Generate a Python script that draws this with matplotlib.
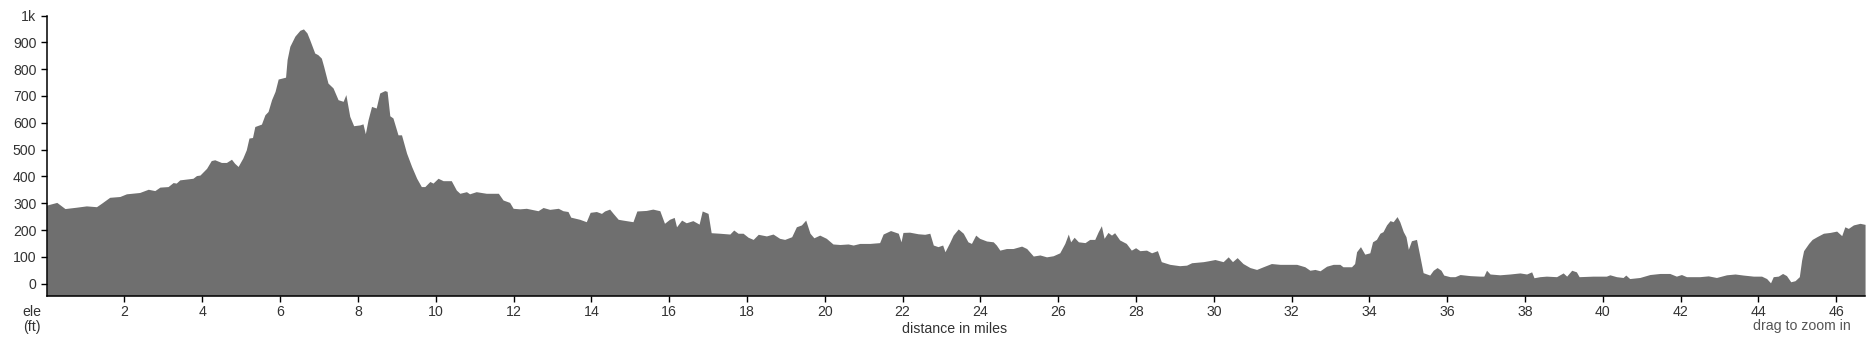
import matplotlib
matplotlib.use("Agg")
from matplotlib import pyplot as plt
from matplotlib.ticker import FuncFormatter

plt.rcParams['font.family'] = ['Liberation Sans', 'DejaVu Sans']

# distance (miles) and elevation (ft)
dist = [0.0, 0.26, 0.47, 0.76, 1.02, 1.28, 1.41, 1.62, 1.88, 2.05, 2.39, 2.61, 2.78, 2.91,
        3.12, 3.25, 3.33, 3.42, 3.59, 3.76, 3.85, 3.94, 4.11, 4.23, 4.32, 4.49, 4.62, 4.75,
        4.83, 4.92, 5.04, 5.13, 5.2, 5.29, 5.35, 5.52, 5.61, 5.69, 5.78, 5.87, 5.95, 6.14,
        6.18, 6.25, 6.38, 6.51, 6.6, 6.69, 6.76, 6.89, 6.97, 7.06, 7.12, 7.23, 7.36, 7.49,
        7.62, 7.69, 7.79, 7.89, 8.05, 8.13, 8.19, 8.26, 8.35, 8.47, 8.56, 8.69, 8.75, 8.82,
        8.9, 9.03, 9.12, 9.25, 9.38, 9.51, 9.63, 9.72, 9.85, 9.93, 10.06, 10.19, 10.4, 10.53,
        10.62, 10.79, 10.87, 11.04, 11.3, 11.61, 11.73, 11.9, 11.99, 12.16, 12.33, 12.63,
        12.76, 12.93, 13.15, 13.27, 13.4, 13.47, 13.7, 13.87, 13.97, 14.13, 14.26, 14.34,
        14.47, 14.56, 14.69, 14.81, 15.07, 15.17, 15.41, 15.58, 15.76, 15.88, 16.01, 16.13,
        16.19, 16.32, 16.44, 16.61, 16.77, 16.85, 17.0, 17.08, 17.3, 17.56, 17.66, 17.77,
        17.9, 18.03, 18.16, 18.29, 18.5, 18.67, 18.84, 18.97, 19.15, 19.27, 19.4, 19.51,
        19.62, 19.72, 19.87, 20.04, 20.21, 20.39, 20.6, 20.73, 20.9, 21.16, 21.41, 21.5,
        21.69, 21.89, 21.96, 22.01, 22.18, 22.4, 22.57, 22.7, 22.79, 22.91, 23.03, 23.09,
        23.21, 23.3, 23.43, 23.56, 23.68, 23.77, 23.88, 23.98, 24.16, 24.33, 24.41, 24.5,
        24.67, 24.84, 25.06, 25.19, 25.36, 25.53, 25.7, 25.87, 26.04, 26.17, 26.26, 26.32,
        26.41, 26.52, 26.69, 26.81, 26.94, 27.03, 27.11, 27.18, 27.28, 27.37, 27.45, 27.58,
        27.75, 27.88, 27.99, 28.1, 28.27, 28.4, 28.55, 28.65, 28.87, 29.12, 29.3, 29.43,
        29.73, 29.85, 30.03, 30.24, 30.37, 30.48, 30.6, 30.75, 30.93, 31.1, 31.27, 31.48,
        31.7, 31.91, 32.13, 32.34, 32.47, 32.6, 32.73, 32.9, 33.07, 33.24, 33.32, 33.54,
        33.62, 33.67, 33.77, 33.88, 34.01, 34.08, 34.18, 34.27, 34.35, 34.44, 34.53, 34.61,
        34.71, 34.78, 34.87, 34.94, 35.0, 35.08, 35.21, 35.3, 35.38, 35.55, 35.64, 35.74,
        35.84, 35.91, 36.07, 36.2, 36.33, 36.58, 36.84, 36.94, 37.01, 37.1, 37.35, 37.61,
        37.87, 38.04, 38.17, 38.23, 38.38, 38.55, 38.81, 38.98, 39.07, 39.2, 39.32, 39.39,
        39.75, 40.09, 40.18, 40.35, 40.52, 40.59, 40.69, 40.95, 41.21, 41.47, 41.72, 41.89,
        42.02, 42.15, 42.49, 42.71, 42.92, 43.18, 43.4, 43.61, 43.87, 44.08, 44.21, 44.31,
        44.38, 44.51, 44.62, 44.72, 44.83, 44.94, 45.05, 45.11, 45.16, 45.29, 45.38, 45.5,
        45.67, 45.84, 46.01, 46.14, 46.22, 46.31, 46.44, 46.61, 46.74]
ele = [293, 303, 280, 285, 290, 287, 300, 322, 325, 335, 340, 352, 347, 360,
       362, 377, 375, 387, 390, 393, 403, 405, 430, 459, 462, 452, 452, 464,
       449, 437, 468, 499, 543, 545, 586, 595, 630, 642, 686, 717, 763, 770,
       836, 885, 923, 945, 950, 935, 910, 860, 854, 841, 810, 748, 730, 686,
       680, 705, 624, 589, 592, 596, 559, 611, 661, 655, 711, 720, 717, 626,
       618, 555, 555, 487, 437, 393, 362, 362, 381, 375, 393, 384, 384, 349,
       337, 343, 335, 343, 337, 337, 312, 303, 281, 279, 281, 272,
       284, 277, 281, 272, 269, 248, 240, 231, 266, 269, 262, 271,
       278, 262, 240, 237, 231, 271, 273, 278, 272, 225, 240, 247,
       212, 237, 227, 235, 222, 271, 262, 190, 188, 185, 200, 188,
       188, 173, 165, 184, 178, 185, 169, 165, 175, 212, 219, 237,
       188, 171, 181, 169, 148, 146, 148, 144, 150, 150, 153, 185,
       198, 188, 156, 191, 192, 186, 184, 188, 144, 138, 144, 119,
       153, 181, 204, 188, 156, 150, 181, 169, 159, 156, 144, 125,
       131, 131, 140, 131, 103, 107, 100, 104, 115, 150, 185, 156,
       173, 156, 153, 165, 165, 194, 216, 169, 191, 181, 190, 163,
       150, 125, 134, 123, 125, 115, 123, 82, 72, 67, 69, 78,
       82, 85, 90, 82, 100, 82, 97, 75, 60, 53, 63, 75,
       72, 72, 72, 63, 50, 53, 48, 65, 72, 72, 63, 63,
       75, 119, 138, 110, 115, 156, 165, 188, 194, 219, 235, 231,
       250, 231, 194, 175, 128, 160, 165, 100, 41, 32, 50, 60,
       50, 32, 26, 26, 34, 30, 28, 28, 50, 36, 33, 36,
       40, 36, 44, 22, 26, 28, 26, 40, 28, 50, 44, 26,
       28, 28, 33, 26, 23, 32, 19, 23, 34, 38, 38, 28,
       34, 26, 26, 29, 23, 33, 36, 32, 28, 28, 19, 3,
       26, 28, 38, 30, 7, 11, 26, 88, 123, 150, 165, 175,
       188, 191, 196, 179, 212, 206, 219, 225, 221]

x_ticks = list(range(2, 47, 2))
y_ticks = list(range(0, 1001, 100))
y_bottom = -45

fig = plt.figure(figsize=(18.75, 3.5), dpi=100)
ax = fig.add_axes([0.0249, 0.1551, 0.9698, 0.8006])

ax.fill_between(dist, ele, y_bottom, color='#6f6f6f', linewidth=0)

ax.set_xlim(0, dist[-1])
ax.set_ylim(y_bottom, 1000)
ax.set_xticks(x_ticks)
ax.set_yticks(y_ticks)
ax.yaxis.set_major_formatter(FuncFormatter(lambda v, p: '1k' if v == 1000 else '%d' % v))

for s in ['top', 'right']:
    ax.spines[s].set_visible(False)
for s in ['left', 'bottom']:
    ax.spines[s].set_linewidth(1.1)
    ax.spines[s].set_color('black')

fs = 10.2
ax.tick_params(axis='x', length=4, width=1, pad=3, labelsize=fs, labelcolor='#333333')
ax.tick_params(axis='y', length=4.5, width=1, pad=3, labelsize=fs, labelcolor='#333333')

fig.text(32 / 1875, 1 - 312 / 350, 'ele', ha='center', va='center', fontsize=fs, color='#333333')
fig.text(31.5 / 1875, 1 - 327 / 350, '(ft)', ha='center', va='center', fontsize=fs, color='#333333')
fig.text(955 / 1875, 1 - 329 / 350, 'distance in miles', ha='center', va='center',
         fontsize=fs, color='#333333')
fig.text(1851 / 1875, 1 - 326 / 350, 'drag to zoom in', ha='right', va='center',
         fontsize=fs, color='#555555')

fig.savefig('out.png', dpi=100)
